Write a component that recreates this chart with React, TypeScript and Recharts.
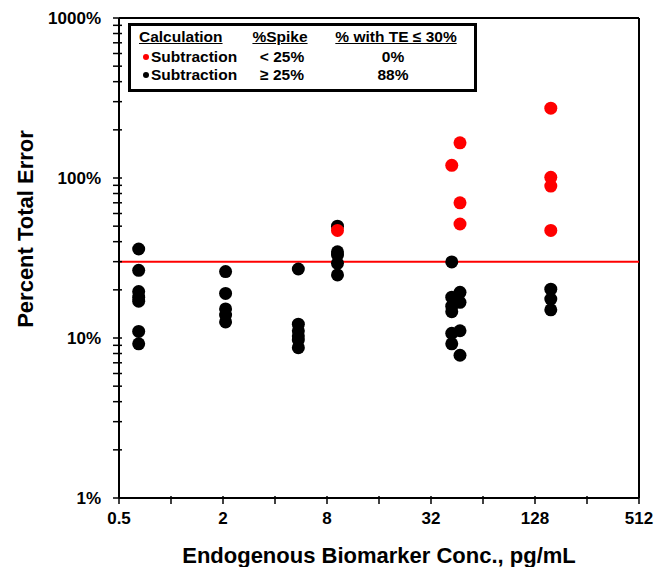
import React from "react";
import {
  ScatterChart,
  Scatter,
  XAxis,
  YAxis,
  ReferenceLine,
} from "recharts";

// spike concentration groups (pg/mL)
const concentrations = [0.65, 2.07, 5.46, 9.2, 42.2, 47.1, 158];

// percent total error, spike >= 25% (black)
const blackErrors = [
  [36, 26.5, 19.5, 18, 17, 11, 9.2],
  [26, 19, 15.2, 13.9, 12.6],
  [27, 12.2, 11.1, 10.3, 9.7, 8.7],
  [50, 34.6, 33, 29.3, 24.8],
  [29.9, 18, 15.8, 14.6, 10.7, 9.2],
  [19.3, 16.7, 11.1, 7.8],
  [20.2, 17.5, 15],
];

// percent total error, spike < 25% (red)
const redErrors = [[], [], [], [47], [120], [166, 70, 51.6], [273, 101, 89, 47]];

const xTicks = [0.5, 1, 2, 4, 8, 16, 32, 64, 128, 256, 512];
const xLabeled = [0.5, 2, 8, 32, 128, 512];
const yDecades = [1, 10, 100];
const yMultipliers = [1, 2, 3, 4, 5, 6, 7, 8, 9];
const yLabeled = [1, 10, 100, 1000];
const totalErrorLimit = 30;

const legendHeader = ["Calculation", "%Spike", "% with TE \u2264 30%"];
const legendRows = [
  { color: "#ff0000", calc: "Subtraction", spike: "< 25%", within: "0%" },
  { color: "#000000", calc: "Subtraction", spike: "\u2265 25%", within: "88%" },
];

const toPoints = (groups: number[][]) =>
  groups.flatMap((vals, i) => vals.map((v) => ({ x: concentrations[i], y: v })));

const blackData = toPoints(blackErrors);
const redData = toPoints(redErrors);
const yTicks = [...yDecades.flatMap((d) => yMultipliers.map((m) => d * m)), 1000];

const FONT = "'Liberation Sans', Arial, sans-serif";
const TICK_SIZE = 6;
const Y_MARGIN = 12;
const X_MARGIN = 8;

const BlackDot = (p: any) => <circle cx={p.cx} cy={p.cy} r={6.5} fill="#000" />;
const RedDot = (p: any) => <circle cx={p.cx} cy={p.cy} r={6.5} fill="#ff0000" />;

// tick marks cross the axis like in the original, labels only on the big ones
const YTick = (p: any) => {
  const v = p.payload.value;
  const ax = p.x + TICK_SIZE + Y_MARGIN;
  return (
    <g>
      <line x1={ax - 6} x2={ax + 3} y1={p.y} y2={p.y} stroke="#000" strokeWidth={1.5} />
      {yLabeled.includes(v) && (
        <text x={p.x} y={p.y} dy="0.355em" textAnchor="end" fontFamily={FONT} fontWeight="bold" fontSize={17} fill="#000">
          {`${v}%`}
        </text>
      )}
    </g>
  );
};

const XTick = (p: any) => {
  const v = p.payload.value;
  const ay = p.y - TICK_SIZE - X_MARGIN;
  return (
    <g>
      <line x1={p.x} x2={p.x} y1={ay - 2} y2={ay + 6} stroke="#000" strokeWidth={1.5} />
      {xLabeled.includes(v) && (
        <text x={p.x} y={p.y} dy="0.71em" textAnchor="middle" fontFamily={FONT} fontWeight="bold" fontSize={17} fill="#000">
          {String(v)}
        </text>
      )}
    </g>
  );
};

const YTitle = (props: any) => {
  const vb = props.viewBox || { x: 0, y: 18, width: 119, height: 480 };
  const cx = vb.x + 25;
  const cy = vb.y + vb.height / 2 - 29;
  return (
    <text
      x={cx}
      y={cy}
      transform={`rotate(-90 ${cx} ${cy})`}
      textAnchor="middle"
      dominantBaseline="central"
      fontFamily={FONT}
      fontWeight="bold"
      fontSize={22}
      fill="#000"
    >
      Percent Total Error
    </text>
  );
};

const LegendBox = () => (
  <div
    style={{
      position: "absolute",
      left: 128,
      top: 23,
      width: 349,
      height: 69,
      boxSizing: "border-box",
      border: "3px solid #000",
      background: "#fff",
      fontFamily: FONT,
      fontWeight: "bold",
      fontSize: 15.5,
      color: "#000",
    }}
  >
    <div style={{ position: "absolute", top: 2, left: 8, lineHeight: "18px", textDecoration: "underline" }}>
      {legendHeader[0]}
    </div>
    <div style={{ position: "absolute", top: 2, left: 89, width: 120, textAlign: "center", lineHeight: "18px", textDecoration: "underline" }}>
      {legendHeader[1]}
    </div>
    <div style={{ position: "absolute", top: 2, left: 190, width: 150, textAlign: "center", lineHeight: "18px", textDecoration: "underline" }}>
      {legendHeader[2]}
    </div>
    {legendRows.map((r, i) => (
      <React.Fragment key={i}>
        <div
          style={{
            position: "absolute",
            top: 28 + i * 18,
            left: 12,
            width: 6,
            height: 6,
            borderRadius: 3,
            background: r.color,
          }}
        />
        <div style={{ position: "absolute", top: 22 + i * 18, left: 20, lineHeight: "18px" }}>{r.calc}</div>
        <div style={{ position: "absolute", top: 22 + i * 18, left: 91, width: 120, textAlign: "center", lineHeight: "18px" }}>
          {r.spike}
        </div>
        <div style={{ position: "absolute", top: 22 + i * 18, left: 187, width: 150, textAlign: "center", lineHeight: "18px" }}>
          {r.within}
        </div>
      </React.Fragment>
    ))}
  </div>
);

const App = () => {
  return (
    <div style={{ position: "absolute", left: 0, top: 0, width: 666, height: 567, background: "#fff" }}>
      <ScatterChart width={666} height={567} margin={{ top: 18, right: 27, bottom: 0, left: 0 }}>
        <XAxis
          type="number"
          dataKey="x"
          scale="log"
          domain={[0.5, 512]}
          allowDataOverflow
          ticks={xTicks}
          interval={0}
          height={69}
          tick={XTick}
          tickSize={TICK_SIZE}
          tickMargin={X_MARGIN}
          tickLine={false}
          axisLine={{ stroke: "#000", strokeWidth: 2 }}
          label={{
            value: "Endogenous Biomarker Conc., pg/mL",
            position: "insideBottom",
            offset: 4,
            style: { fontFamily: FONT, fontWeight: "bold", fontSize: 22, fill: "#000" },
          }}
        />
        <YAxis
          type="number"
          dataKey="y"
          scale="log"
          domain={[1, 1000]}
          allowDataOverflow
          ticks={yTicks}
          interval={0}
          width={119}
          tick={YTick}
          tickSize={TICK_SIZE}
          tickMargin={Y_MARGIN}
          tickLine={false}
          axisLine={{ stroke: "#000", strokeWidth: 2 }}
          label={{ content: YTitle }}
        />
        <ReferenceLine y={1000} stroke="#000" strokeWidth={2} />
        <ReferenceLine x={512} stroke="#000" strokeWidth={2} />
        <ReferenceLine y={totalErrorLimit} stroke="#ff0000" strokeWidth={2} />
        <Scatter name="Subtraction, spike >= 25%" data={blackData} shape={BlackDot} isAnimationActive={false} />
        <Scatter name="Subtraction, spike < 25%" data={redData} shape={RedDot} isAnimationActive={false} />
      </ScatterChart>
      <LegendBox />
    </div>
  );
};

export default App;
